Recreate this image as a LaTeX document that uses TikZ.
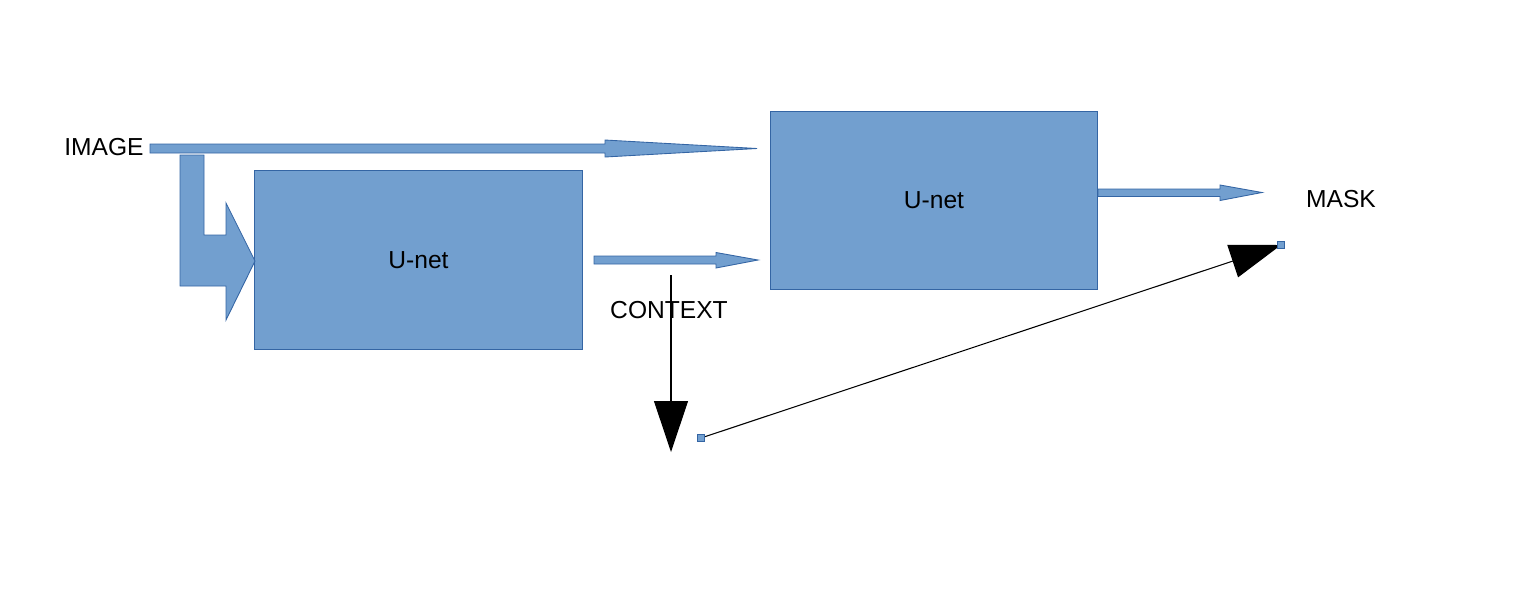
\documentclass[tikz,border=0pt]{standalone}
\usepackage{fontspec}
\setmainfont{Liberation Sans}
\usetikzlibrary{arrows.meta}
\definecolor{unetblue}{RGB}{114,159,207}
\definecolor{unetedge}{RGB}{52,101,164}
\tikzset{
    unet/.style = {draw=unetedge, fill=unetblue, line width=0.5pt, minimum width=6.55cm, minimum height=3.57cm, font=\fontsize{14}{17}\selectfont},
    blockarrow/.style = {draw=unetedge, fill=unetblue, line width=0.5pt},
    label/.style = {font=\fontsize{14}{17}\selectfont},
    conn/.style = {black, line width=0.6pt, -{Triangle[length=1.02cm, width=0.68cm]}},
    handle/.style = {draw=unetedge, fill=unetblue, line width=0.4pt, minimum size=0.14cm, inner sep=0pt}
}

\begin{document}
\begin{tikzpicture}[x = 0.02cm, y = -0.02cm]
    \useasboundingbox (0, 0) rectangle (1518, 610);
    % the two networks
    \node[unet] (unetA) at (418.5, 260) {U-net};
    \node[unet] (unetB) at (934, 200.5) {U-net};
    \node[label] (image) at (104, 147) {IMAGE};
    \node[label] (context) at (669, 310) {CONTEXT};
    \node[label] (mask) at (1341, 199) {MASK};
    % block arrows
    \filldraw[blockarrow] (150, 144) -- (605, 144) -- (605, 140) -- (757, 148.5) -- (605, 157) -- (605, 153) -- (150, 153) -- cycle;
    \filldraw[blockarrow] (180, 155) -- (204, 155) -- (204, 235) -- (226, 235) -- (226, 203) -- (255, 261) -- (226, 320) -- (226, 286) -- (180, 286) -- cycle;
    \filldraw[blockarrow] (594, 256) -- (716, 256) -- (716, 252.5) -- (758, 260) -- (716, 268) -- (716, 264) -- (594, 264) -- cycle;
    \filldraw[blockarrow] (1098, 189) -- (1220, 189) -- (1220, 185) -- (1262, 192.5) -- (1220, 200.5) -- (1220, 196.5) -- (1098, 196.5) -- cycle;
    % connectors
    \coordinate (C1) at (671, 275);
    \coordinate (C2) at (671, 452);
    \coordinate (H1) at (701, 438);
    \coordinate (H2) at (1281, 245);
    \draw[conn] (C1) -- (C2);
    \draw[conn] (H1) -- (H2);
    \node[handle] (h1) at (H1) {};
    \node[handle] (h2) at (H2) {};
\end{tikzpicture}
\end{document}
